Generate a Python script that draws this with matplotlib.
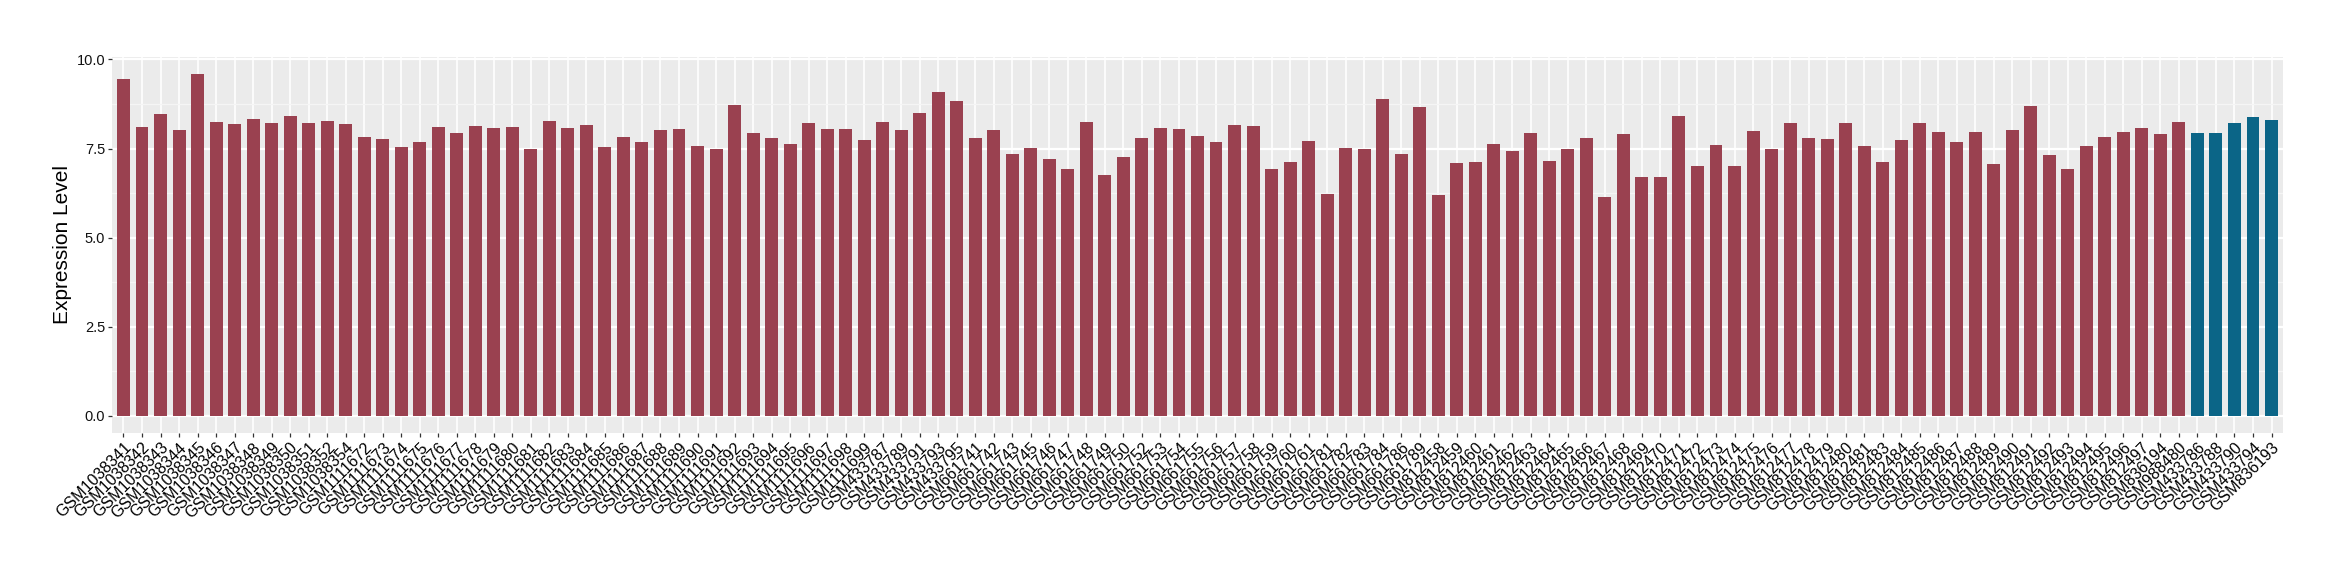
import matplotlib
matplotlib.use("Agg")
import matplotlib.pyplot as plt
import numpy as np

red_samples = [
    "GSM1038341", "GSM1038342", "GSM1038343", "GSM1038344", "GSM1038345", "GSM1038346",
    "GSM1038347", "GSM1038348", "GSM1038349", "GSM1038350", "GSM1038351", "GSM1038352",
    "GSM1038354",
    "GSM1111672", "GSM1111673", "GSM1111674", "GSM1111675", "GSM1111676", "GSM1111677",
    "GSM1111678", "GSM1111679", "GSM1111680", "GSM1111681", "GSM1111682", "GSM1111683",
    "GSM1111684", "GSM1111685", "GSM1111686", "GSM1111687", "GSM1111688", "GSM1111689",
    "GSM1111690", "GSM1111691", "GSM1111692", "GSM1111693", "GSM1111694", "GSM1111695",
    "GSM1111696", "GSM1111697", "GSM1111698", "GSM1111699",
    "GSM433787", "GSM433789", "GSM433791", "GSM433793", "GSM433795",
    "GSM661741", "GSM661742", "GSM661743", "GSM661745", "GSM661746", "GSM661747",
    "GSM661748", "GSM661749", "GSM661750", "GSM661752", "GSM661753", "GSM661754",
    "GSM661755", "GSM661756", "GSM661757", "GSM661758", "GSM661759", "GSM661760",
    "GSM661761", "GSM661781", "GSM661782", "GSM661783", "GSM661784", "GSM661786",
    "GSM661789",
    "GSM812458", "GSM812459", "GSM812460", "GSM812461", "GSM812462", "GSM812463",
    "GSM812464", "GSM812465", "GSM812466", "GSM812467", "GSM812468", "GSM812469",
    "GSM812470", "GSM812471", "GSM812472", "GSM812473", "GSM812474", "GSM812475",
    "GSM812476", "GSM812477", "GSM812478", "GSM812479", "GSM812480", "GSM812481",
    "GSM812483", "GSM812484", "GSM812485", "GSM812486", "GSM812487", "GSM812488",
    "GSM812489", "GSM812490", "GSM812491", "GSM812492", "GSM812493", "GSM812494",
    "GSM812495", "GSM812496", "GSM812497",
    "GSM836194", "GSM988480",
]
red_values = [
    9.45, 8.11, 8.47, 8.02, 9.59, 8.25, 8.19, 8.33, 8.22, 8.41, 8.22, 8.27, 8.19,
    7.83, 7.77, 7.55, 7.69, 8.11, 7.94, 8.13, 8.08, 8.11, 7.49, 8.27, 8.08, 8.16,
    7.55, 7.83, 7.69, 8.02, 8.05, 7.57, 7.49, 8.72, 7.94, 7.80, 7.63, 8.22, 8.05,
    8.05, 7.74,
    8.25, 8.02, 8.50, 9.09, 8.83,
    7.80, 8.02, 7.35, 7.52, 7.21, 6.93, 8.25, 6.76, 7.27, 7.80, 8.08, 8.05, 7.85,
    7.69, 8.16, 8.13, 6.93, 7.13, 7.71, 6.23, 7.52, 7.49, 8.89, 7.35, 8.67,
    6.20, 7.10, 7.13, 7.63, 7.43, 7.94, 7.15, 7.49, 7.80, 6.15, 7.91, 6.71, 6.71,
    8.41, 7.01, 7.60, 7.01, 7.99, 7.49, 8.22, 7.80, 7.77, 8.22, 7.57,
    7.13, 7.74, 8.22, 7.97, 7.69, 7.97, 7.07, 8.02, 8.69, 7.32, 6.93, 7.57, 7.83,
    7.97, 8.08,
    7.91, 8.25,
]
blue_samples = ["GSM433786", "GSM433788", "GSM433790", "GSM433794", "GSM836193"]
blue_values = [7.94, 7.94, 8.22, 8.39, 8.30]

red_color = "#9A4150"
blue_color = "#0B6587"

labels = red_samples + blue_samples
values = red_values + blue_values
colors = [red_color] * len(red_samples) + [blue_color] * len(blue_samples)
x = np.arange(len(labels))

fig = plt.figure(figsize=(23.4, 5.8), dpi=100)
ax = fig.add_axes([112 / 2340, 147 / 580, 2171 / 2340, 376 / 580])
ax.set_facecolor("#EBEBEB")
ax.set_axisbelow(True)

ax.bar(x, values, width=0.7, color=colors, zorder=3)

ax.set_xlim(-0.62, len(labels) - 1 + 0.62)
ax.set_ylim(-0.48, 10.07)
ax.set_yticks([0, 2.5, 5, 7.5, 10])
ax.set_yticklabels(["0.0", "2.5", "5.0", "7.5", "10.0"], fontsize=10.5,
                   family="Liberation Sans", color="#111111")
ax.set_yticks([1.25, 3.75, 6.25, 8.75], minor=True)
ax.set_xticks(x)
ax.set_xticklabels(labels, rotation=45, ha="right", va="top", rotation_mode="anchor",
                   fontsize=11.5, family="Liberation Sans", color="#000000")

ax.grid(which="major", axis="y", color="white", linewidth=1.6)
ax.grid(which="minor", axis="y", color="#F5F5F5", linewidth=0.9)
ax.grid(which="major", axis="x", color="white", linewidth=1.2)
ax.tick_params(axis="both", which="major", length=3, color="#333333", width=0.9, pad=2)
ax.tick_params(axis="y", which="minor", length=0)
for s in ax.spines.values():
    s.set_visible(False)

ax.set_ylabel("Expression Level", fontsize=15, family="Liberation Sans", labelpad=3)

fig.savefig("out.png", dpi=100)
